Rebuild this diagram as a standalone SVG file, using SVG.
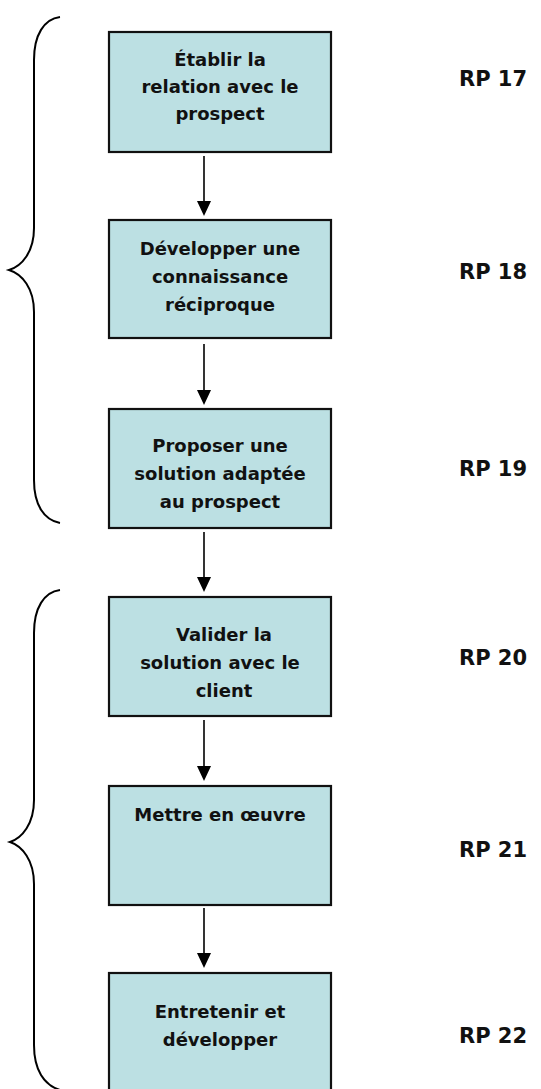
<svg xmlns="http://www.w3.org/2000/svg" width="541" height="1089" viewBox="0 0 541 1089">
<defs>
<style>
.box{fill:#bce0e3;stroke:#111;stroke-width:2.2}
.t{font-family:"DejaVu Sans","Liberation Sans",sans-serif;font-weight:bold;font-size:18px;fill:#111;text-anchor:middle}
.rp{font-family:"DejaVu Sans","Liberation Sans",sans-serif;font-weight:bold;font-size:21px;fill:#111}
.ln{stroke:#000;stroke-width:1.6;fill:none}
.br{stroke:#000;stroke-width:2;fill:none}
</style>
</defs>
<rect width="541" height="1089" fill="#fff"/>
<g id="brackets">
<path class="br" d="M60,17 C44,19 34,35 34,60 L34,228 C34,252 22,266 9,270 C22,274 34,288 34,312 L34,480 C34,505 44,520 60,523"/>
<path class="br" d="M60,590 C44,592 34,608 34,633 L34,800 C34,824 22,838 10,842 C22,846 34,860 34,884 L34,1045 C34,1070 44,1085 60,1090"/>
</g>
<g id="connectors">
<line class="ln" x1="204" y1="156" x2="204" y2="201"/>
<path d="M197,201 L211,201 L204,216 Z"/>
<line class="ln" x1="204" y1="344" x2="204" y2="390"/>
<path d="M197,390 L211,390 L204,405 Z"/>
<line class="ln" x1="204" y1="532" x2="204" y2="577"/>
<path d="M197,577 L211,577 L204,592 Z"/>
<line class="ln" x1="204" y1="720" x2="204" y2="766"/>
<path d="M197,766 L211,766 L204,781 Z"/>
<line class="ln" x1="204" y1="908" x2="204" y2="953"/>
<path d="M197,953 L211,953 L204,968 Z"/>
</g>
<g id="n1">
<rect class="box" x="109" y="32" width="222" height="120"/>
<text class="t" x="220" y="66">Établir la</text>
<text class="t" x="220" y="93">relation avec le</text>
<text class="t" x="220" y="120">prospect</text>
</g>
<g id="n2">
<rect class="box" x="109" y="220" width="222" height="118"/>
<text class="t" x="220" y="255">Développer une</text>
<text class="t" x="220" y="283">connaissance</text>
<text class="t" x="220" y="311">réciproque</text>
</g>
<g id="n3">
<rect class="box" x="109" y="409" width="222" height="119"/>
<text class="t" x="220" y="452">Proposer une</text>
<text class="t" x="220" y="480">solution adaptée</text>
<text class="t" x="220" y="508">au prospect</text>
</g>
<g id="n4">
<rect class="box" x="109" y="597" width="222" height="119"/>
<text class="t" x="224" y="641">Valider la</text>
<text class="t" x="220" y="669">solution avec le</text>
<text class="t" x="224" y="697">client</text>
</g>
<g id="n5">
<rect class="box" x="109" y="786" width="222" height="119"/>
<text class="t" x="220" y="821">Mettre en œuvre</text>
</g>
<g id="n6">
<rect class="box" x="109" y="973" width="222" height="125"/>
<text class="t" x="220" y="1018">Entretenir et</text>
<text class="t" x="220" y="1046">développer</text>
</g>
<g id="labels">
<text class="rp" x="459" y="86">RP 17</text>
<text class="rp" x="459" y="279">RP 18</text>
<text class="rp" x="459" y="476">RP 19</text>
<text class="rp" x="459" y="665">RP 20</text>
<text class="rp" x="459" y="857">RP 21</text>
<text class="rp" x="459" y="1043">RP 22</text>
</g>
</svg>
